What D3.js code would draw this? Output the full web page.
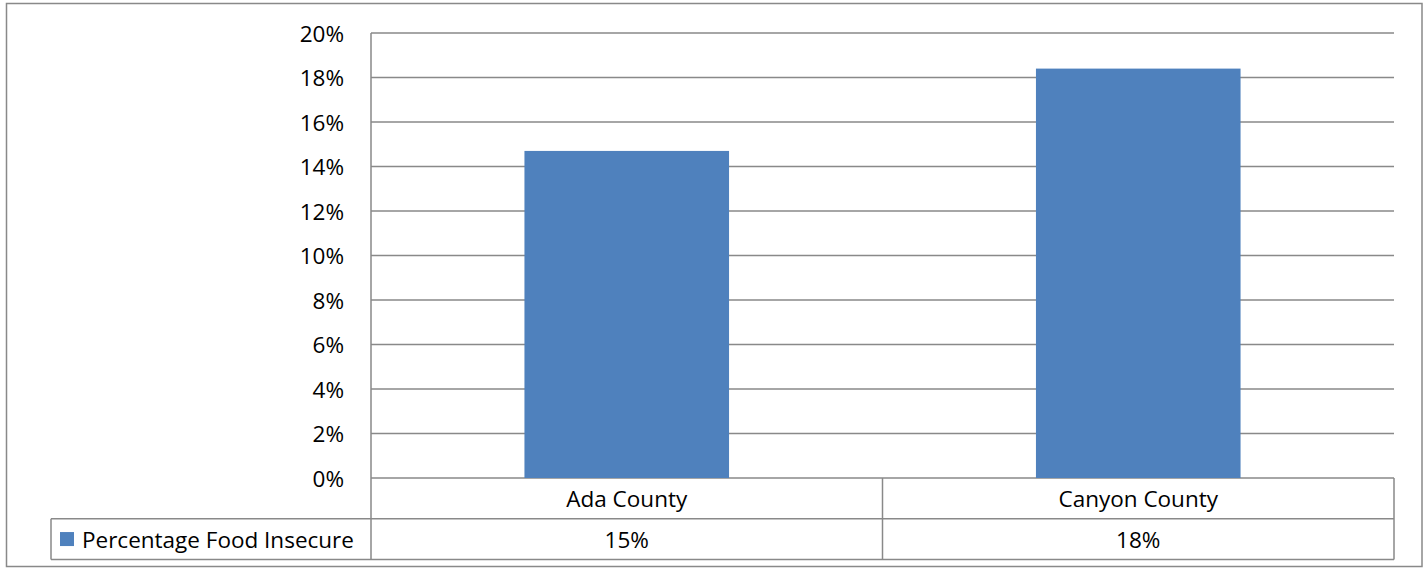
<!DOCTYPE html>
<html>
<head>
<meta charset="utf-8">
<script src="https://cdn.jsdelivr.net/npm/d3@7"></script>
<style>
  html, body { margin: 0; padding: 0; background: #fff; }
  svg { display: block; }
  text { font-family: "Open Sans", "Liberation Sans", sans-serif; fill: #000; }
</style>
</head>
<body>
<svg id="chart" width="1428" height="571"></svg>
<script>
const categories = ["Ada County", "Canyon County"];
const seriesName = "Percentage Food Insecure";
const values = [0.147, 0.184];
const tableLabels = ["15%", "18%"];
const yTicks = [0, 0.02, 0.04, 0.06, 0.08, 0.10, 0.12, 0.14, 0.16, 0.18, 0.20];

const svg = d3.select("#chart");
const gridColor = "#898989";
const barColor = "#4F81BD";
const fs = 22.5;

const plot = { left: 371, right: 1394, top: 33, bottom: 478 };
const rowH = 40.7;
const legendLeft = 51;

// outer border
svg.append("rect")
  .attr("x", 6.5).attr("y", 3.5).attr("width", 1415.5).attr("height", 563)
  .attr("fill", "none").attr("stroke", gridColor).attr("stroke-width", 1.5);

const x = d3.scaleBand().domain(categories).range([plot.left, plot.right]).paddingInner(0).paddingOuter(0);
const y = d3.scaleLinear().domain([0, 0.20]).range([plot.bottom, plot.top]);

// gridlines
svg.append("g").selectAll("line").data(yTicks).join("line")
  .attr("x1", plot.left).attr("x2", plot.right)
  .attr("y1", d => y(d)).attr("y2", d => y(d))
  .attr("stroke", gridColor).attr("stroke-width", 1.5);

// y labels
svg.append("g").selectAll("text").data(yTicks).join("text")
  .attr("x", 344).attr("y", d => y(d))
  .attr("text-anchor", "end").attr("dominant-baseline", "central")
  .attr("font-size", fs)
  .text(d => d3.format(".0%")(d));

// bars
const barFrac = 0.4;
svg.append("g").selectAll("rect").data(categories).join("rect")
  .attr("x", d => x(d) + x.bandwidth() * (1 - barFrac) / 2)
  .attr("width", x.bandwidth() * barFrac)
  .attr("y", (d, i) => y(values[i]))
  .attr("height", (d, i) => y(0) - y(values[i]))
  .attr("fill", barColor);

// data table
const t1 = plot.bottom, t2 = plot.bottom + rowH, t3 = plot.bottom + 2 * rowH;
const tg = svg.append("g").attr("stroke", gridColor).attr("stroke-width", 1.5);
tg.append("line").attr("x1", plot.left).attr("x2", plot.left).attr("y1", plot.top).attr("y2", t3);
tg.append("line").attr("x1", plot.right).attr("x2", plot.right).attr("y1", t1).attr("y2", t3);
tg.append("line").attr("x1", legendLeft).attr("x2", plot.right).attr("y1", t2).attr("y2", t2);
tg.append("line").attr("x1", legendLeft).attr("x2", plot.right).attr("y1", t3).attr("y2", t3);
tg.append("line").attr("x1", legendLeft).attr("x2", legendLeft).attr("y1", t2).attr("y2", t3);
tg.selectAll("line.div").data(categories.slice(1)).join("line").attr("class", "div")
  .attr("x1", d => x(d)).attr("x2", d => x(d)).attr("y1", t1).attr("y2", t3);

// category labels
svg.append("g").selectAll("text").data(categories).join("text")
  .attr("x", d => x(d) + x.bandwidth() / 2).attr("y", (t1 + t2) / 2)
  .attr("text-anchor", "middle").attr("dominant-baseline", "central")
  .attr("font-size", fs).text(d => d);

// value labels
svg.append("g").selectAll("text").data(categories).join("text")
  .attr("x", d => x(d) + x.bandwidth() / 2).attr("y", (t2 + t3) / 2)
  .attr("text-anchor", "middle").attr("dominant-baseline", "central")
  .attr("font-size", fs).text((d, i) => tableLabels[i]);

// legend key
svg.append("rect").attr("x", 60).attr("y", (t2 + t3) / 2 - 7).attr("width", 14).attr("height", 14).attr("fill", barColor);
svg.append("text").attr("x", 82).attr("y", (t2 + t3) / 2)
  .attr("dominant-baseline", "central").attr("font-size", fs).text(seriesName);
</script>
</body>
</html>
